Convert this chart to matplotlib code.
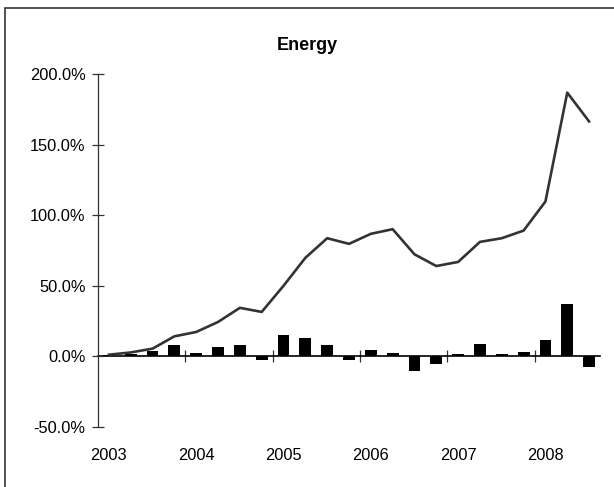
import matplotlib.pyplot as plt
import numpy as np
from matplotlib.patches import Rectangle
from matplotlib.ticker import FuncFormatter

plt.rcParams["font.family"] = ["Liberation Sans", "DejaVu Sans"]

# quarterly data, 2003 Q1 .. 2008 Q3
quarters = [f"{y} Q{q}" for y in range(2003, 2009) for q in range(1, 5)][:23]
quarterly_return = [1.2, 1.7, 3.6, 8.3, 2.6, 6.4, 8.3, -2.8, 15.2, 12.8, 8.3, -2.8,
                    4.3, 2.1, -10.0, -5.2, 1.7, 8.8, 1.7, 3.3, 11.4, 37.0, -7.6]
cumulative_return = [1.2, 2.8, 5.5, 14.2, 17.3, 24.4, 34.4, 31.5, 50.0, 69.8, 83.7, 79.7,
                     86.8, 90.1, 72.3, 64.0, 66.9, 81.1, 83.7, 89.1, 109.7, 186.8, 166.4]
year_labels = ["2003", "2004", "2005", "2006", "2007", "2008"]

x = np.arange(len(quarters))

fig = plt.figure(figsize=(6.14, 4.87), dpi=100)
ax = fig.add_axes([98 / 614, 60 / 487, 502 / 614, 353 / 487])

ax.bar(x, quarterly_return, width=0.54, color="black", zorder=2)
ax.plot(x, cumulative_return, color="#333333", linewidth=1.9, zorder=3)

ax.set_xlim(-0.5, len(quarters) - 0.5)
ax.set_ylim(-50, 200)
ax.set_yticks([-50, 0, 50, 100, 150, 200])
ax.yaxis.set_major_formatter(FuncFormatter(lambda v, p: f"{v:.1f}%"))
ax.tick_params(axis="y", direction="inout", length=8, width=0.9, color="#333333",
               labelsize=11.8, pad=5)

# year labels at the bottom, on the first quarter of each year
ax.set_xticks(x[::4], year_labels)
ax.tick_params(axis="x", length=0, labelsize=11.8, pad=15)

for side in ["top", "right", "bottom"]:
    ax.spines[side].set_visible(False)
ax.spines["left"].set_color("#333333")
ax.spines["left"].set_linewidth(0.9)

# category axis crossing at zero, tick marks between years
zero_axis = ax.secondary_xaxis(50 / 250)
zero_axis.set_xticks(x[::4][1:] - 0.5)
zero_axis.tick_params(direction="inout", length=8, width=0.9, color="#333333",
                      labelbottom=False, labeltop=False)
zero_axis.spines["bottom"].set_color("black")
zero_axis.spines["bottom"].set_linewidth(1.2)

fig.text(0.5, 1 - 45 / 487, "Energy", ha="center", va="center", fontsize=13,
         fontweight="bold")

fig.patches.append(Rectangle((5 / 614, -0.1), 1.2, 1.1 - 8 / 487, transform=fig.transFigure,
                             fill=False, edgecolor="#333333", linewidth=1.2))

fig.savefig("out.png", dpi=100)
